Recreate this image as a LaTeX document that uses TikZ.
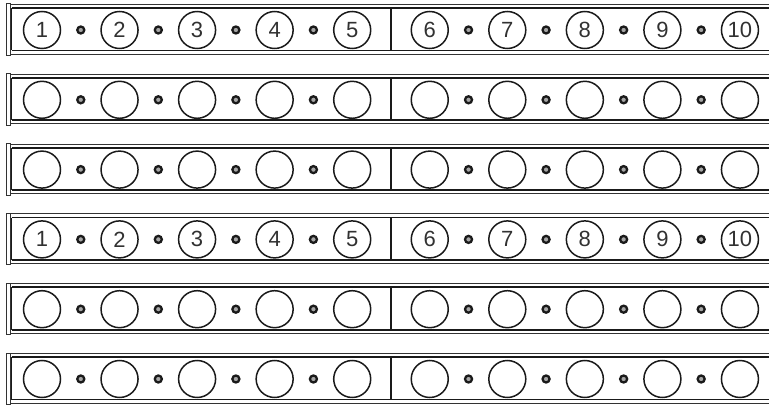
\documentclass[tikz,border=0pt]{standalone}
\usepackage{fontspec}
\setmainfont{Liberation Sans}
\usetikzlibrary{calc}
\definecolor{ink}{HTML}{1A1A1A}
\definecolor{thin}{HTML}{333333}
\newcommand{\slotfont}{\fontsize{22}{22}\selectfont}
\tikzset{
  outerline/.style={draw=thin, line width=1pt},
  innerline/.style={draw=ink, line width=1.8pt},
  capbox/.style={draw=thin, line width=1pt, fill=white},
  slot/.style={circle, draw=ink, line width=1.5pt, minimum size=37pt, inner sep=0pt, font=\slotfont, text=ink!90},
  pin/.style={circle, draw=ink, line width=2.3pt, fill=gray!70, minimum size=7pt, inner sep=0pt},
  divider/.style={draw=ink, line width=1.5pt}
}
\begin{document}
\begin{tikzpicture}[x=1pt,y=-1pt]
\useasboundingbox (0,0) rectangle (769,406);
\foreach \k/\lab in {0/1,1/0,2/0,3/1,4/0,5/0}{
  \pgfmathsetmacro{\T}{4.5+69.8*\k}
  \begin{scope}[yshift={-\T pt}]
    % outer lines
    \draw[outerline] (10,0) -- (769,0);
    \draw[outerline] (10,49.7) -- (769,49.7);
    % inner lines
    \draw[innerline] (11.5,3.7) -- (769,3.7);
    \draw[innerline] (11.5,46) -- (769,46);
    \draw[innerline] (11.5,3.7) -- (11.5,46);
    % end cap
    \draw[capbox] (6.5,-0.5) rectangle (10,51);
    % divider
    \draw[divider] (391,3.7) -- (391,46);
    % slots
    \foreach \i in {1,...,10}{
      \pgfmathsetmacro{\cx}{42+77.55*(\i-1)}
      \ifnum\lab=1
        \node[slot] (s\k-\i) at (\cx,25.5) {\i};
      \else
        \node[slot] (s\k-\i) at (\cx,25.5) {};
      \fi
    }
    \foreach \i/\j in {1/2,2/3,3/4,4/5,6/7,7/8,8/9,9/10}{
      \node[pin] (p\k-\i) at ($(s\k-\i)!0.5!(s\k-\j)$) {};
    }
  \end{scope}
}
\end{tikzpicture}
\end{document}
